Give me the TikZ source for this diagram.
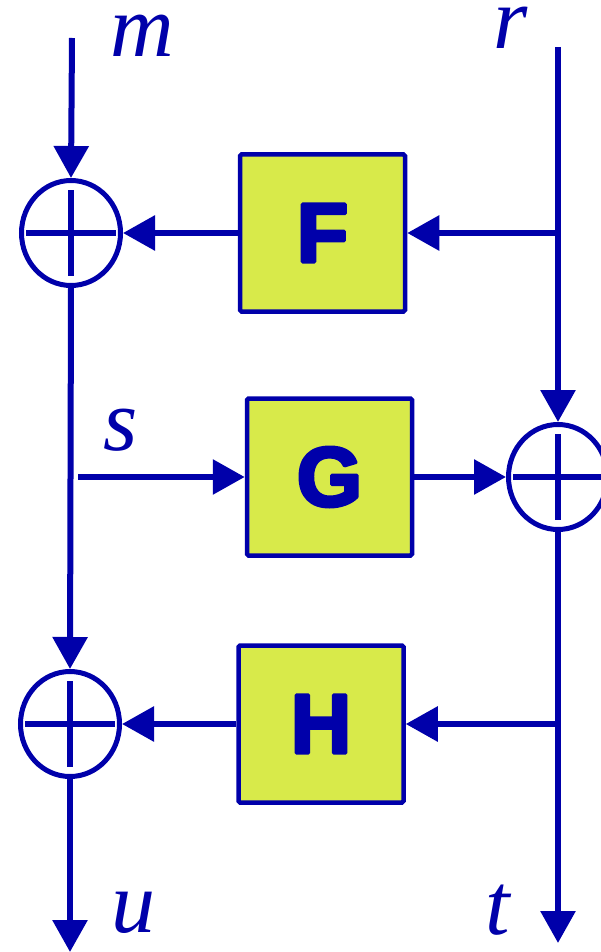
\documentclass[tikz,border=0pt]{standalone}
\usepackage{fontspec}
\setmainfont{Liberation Serif}
\newfontfamily\boxfont{Liberation Sans}
\newcommand{\heavytext}[1]{\special{pdf:literal direct 2 Tr 3.5 w 1 j}#1\special{pdf:literal direct 0 Tr}}
\usetikzlibrary{arrows.meta,shapes.geometric,calc}
\definecolor{dblue}{RGB}{0,0,170}
\definecolor{boxfill}{RGB}{216,234,74}
\begin{document}
\begin{tikzpicture}[x=1pt,y=-1pt,line width=6pt,dblue,
  ar/.style={-{Triangle[length=32pt,width=34pt]}},
  sumnode/.style={ellipse,draw,line width=5pt,minimum width=99pt,minimum height=105pt,inner sep=0pt},
  block/.style={draw,fill=boxfill,line width=4.5pt,rounded corners=1.5pt,minimum width=165pt,minimum height=157pt,inner sep=0pt,font=\boxfont\bfseries\fontsize{84}{84}\selectfont},
  lbl/.style={inner sep=0pt,font=\itshape\fontsize{88}{88}\selectfont}]
\useasboundingbox (0,0) rectangle (600,952);
% summing junctions
\node[sumnode] (C1) at (71,233) {};
\node[sumnode] (C2) at (558,477) {};
\node[sumnode] (C3) at (70,724) {};
\foreach \c in {C1,C2,C3}{
  \draw ($(\c)+(-45,0)$) -- ($(\c)+(45,0)$);
  \draw ($(\c)+(0,-43)$) -- ($(\c)+(0,43)$);
}
% blocks
\node[block] (F) at (322.5,233) {\heavytext{F}};
\node[block] (G) at (329.5,477) {\heavytext{G}};
\node[block] (H) at (321,724) {\heavytext{H}};
% labels
\node[lbl] (lm) at (142,36) {m};
\node[lbl] (lr) at (511,28) {r};
\node[lbl] (ls) at (121,430) {s};
\node[lbl] (lu) at (133,913) {u};
\node[lbl] (lt) at (498,910) {t};
% coordinates
\coordinate (mtop) at (72,38);
\coordinate (rtop) at (558,47);
\coordinate (rF) at (558,233);
\coordinate (sstart) at (78,477);
\coordinate (tH) at (558,724);
\coordinate (ubot) at (70,952);
\coordinate (tbot) at (558,943);
% connectors
\draw[ar] (mtop) -- (C1.north);
\draw[ar] (rF) -- (F.east);
\draw[ar] (F.west) -- (C1.east);
\draw (rtop) -- (rF);
\draw[ar] (rF) -- (C2.north);
\draw[ar] (C1.south) -- (C3.north);
\draw[ar] (sstart) -- (G.west);
\draw[ar] (G.east) -- (C2.west);
\draw (C2.south) -- (tH);
\draw[ar] (tH) -- (tbot);
\draw[ar] (tH) -- (H.east);
\draw[ar] (H.west) -- (C3.east);
\draw[ar] (C3.south) -- (ubot);
\end{tikzpicture}
\end{document}
